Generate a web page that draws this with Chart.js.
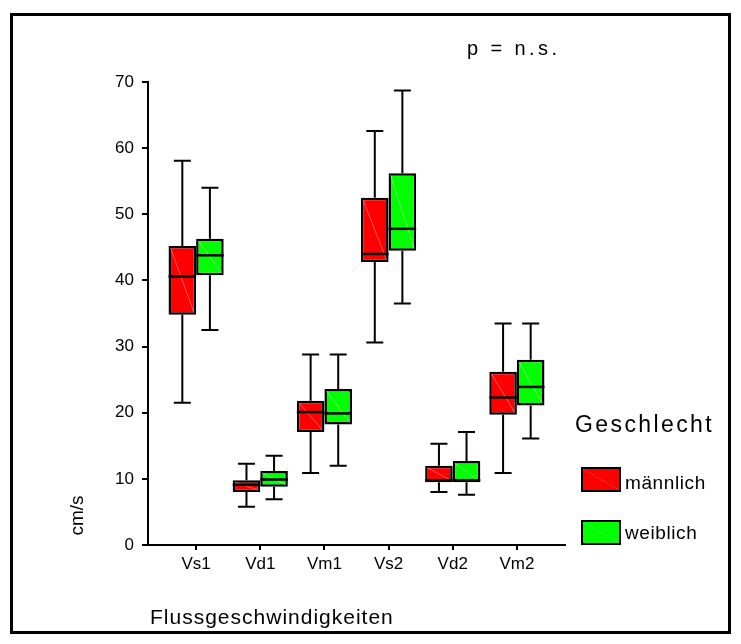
<!DOCTYPE html>
<html>
<head>
<meta charset="utf-8">
<script src="https://cdn.jsdelivr.net/npm/chart.js@4.4.1/dist/chart.umd.min.js"></script>
<style>
    body { margin: 0; background: #fff; font-family: "Liberation Sans", Arial, sans-serif; }
    #wrap { position: relative; width: 741px; height: 644px; overflow: hidden; }
    #chart { position: absolute; left: 0; top: 0; }
    .frame { position: absolute; left: 10px; top: 13px; width: 721px; height: 621px; border: 3px solid #000; box-sizing: border-box; }
    .txt { position: absolute; color: #000; white-space: nowrap; line-height: 1; }
    .swatch { position: absolute; width: 36px; height: 21px; border: 2px solid #000; box-sizing: content-box; }
</style>
</head>
<body>
<div id="wrap">
    <canvas id="chart" width="741" height="644"></canvas>
    <div class="frame"></div>
    <div class="txt" style="left:467px; top:38px; font-size:20px; letter-spacing:3.4px;">p = n.s.</div>
    <div class="txt" style="left:575px; top:413px; font-size:23px; letter-spacing:2.4px;">Geschlecht</div>
    <div class="swatch" style="left:581px; top:467px; background:linear-gradient(to bottom left, #ff0000 49%, #ff6060 50%, #ff0000 51%);"></div>
    <div class="txt" style="left:625px; top:473px; font-size:19px; letter-spacing:0.6px;">männlich</div>
    <div class="swatch" style="left:581px; top:520px; background:linear-gradient(to bottom left, #00ff00 49%, #80ff80 50%, #00ff00 51%);"></div>
    <div class="txt" style="left:625px; top:523px; font-size:19px; letter-spacing:0.6px;">weiblich</div>
    <div class="txt" style="left:150px; top:606px; font-size:21px; letter-spacing:1px;">Flussgeschwindigkeiten</div>
    <div class="txt" style="left:56px; top:506px; font-size:19px; transform:rotate(-90deg); transform-origin:center;">cm/s</div>
</div>
<script>
// Flussgeschwindigkeiten (cm/s), Boxplot nach Geschlecht
const categories = ['Vs1', 'Vd1', 'Vm1', 'Vs2', 'Vd2', 'Vm2'];
const yTicks = [0, 10, 20, 30, 40, 50, 60, 70];

// männlich
const maleMin    = [21.5,  5.8, 10.9, 30.6,  8.0, 10.9];
const maleQ1     = [34.8,  8.0, 17.1, 42.8,  9.5, 19.7];
const maleMedian = [40.6,  9.1, 20.1, 44.0,  9.8, 22.3];
const maleQ3     = [45.2,  9.8, 21.8, 52.5, 12.0, 26.2];
const maleMax    = [58.1, 12.3, 28.8, 62.6, 15.3, 33.5];

// weiblich
const femaleMin    = [32.5,  6.9, 12.0, 36.5,  7.6, 16.1];
const femaleQ1     = [40.8,  8.8, 18.2, 44.5,  9.5, 21.1];
const femaleMedian = [43.8,  9.9, 19.9, 47.8,  9.8, 23.9];
const femaleQ3     = [46.3, 11.2, 23.6, 56.2, 12.7, 28.0];
const femaleMax    = [54.0, 13.5, 28.8, 68.7, 17.1, 33.5];

const groups = [
    { label: 'männlich', color: '#ff0000', streak: 'rgba(255,150,150,0.6)', min: maleMin, q1: maleQ1, med: maleMedian, q3: maleQ3, max: maleMax },
    { label: 'weiblich', color: '#00ff00', streak: 'rgba(170,255,170,0.6)', min: femaleMin, q1: femaleQ1, med: femaleMedian, q3: femaleQ3, max: femaleMax }
];

// whiskers behind the boxes, medians on top
const boxplotParts = {
    id: 'boxplotParts',
    beforeDatasetsDraw(chart) {
        const ctx = chart.ctx;
        const y = chart.scales.y;
        ctx.save();
        ctx.strokeStyle = '#000';
        ctx.lineWidth = 2;
        groups.forEach((g, di) => {
            chart.getDatasetMeta(di).data.forEach((bar, i) => {
                const x = bar.x;
                const cap = 8.5;
                ctx.beginPath();
                ctx.moveTo(x, y.getPixelForValue(g.q3[i]));
                ctx.lineTo(x, y.getPixelForValue(g.max[i]));
                ctx.moveTo(x - cap, y.getPixelForValue(g.max[i]));
                ctx.lineTo(x + cap, y.getPixelForValue(g.max[i]));
                ctx.moveTo(x, y.getPixelForValue(g.q1[i]));
                ctx.lineTo(x, y.getPixelForValue(g.min[i]));
                ctx.moveTo(x - cap, y.getPixelForValue(g.min[i]));
                ctx.lineTo(x + cap, y.getPixelForValue(g.min[i]));
                ctx.stroke();
            });
        });
        ctx.restore();
    },
    afterDatasetsDraw(chart) {
        const ctx = chart.ctx;
        const y = chart.scales.y;
        ctx.save();
        groups.forEach((g, di) => {
            chart.getDatasetMeta(di).data.forEach((bar, i) => {
                const half = bar.width / 2;
                const top = y.getPixelForValue(g.q3[i]);
                const bottom = y.getPixelForValue(g.q1[i]);
                // faint diagonal streak like the original export
                ctx.strokeStyle = g.streak;
                ctx.lineWidth = 1;
                ctx.beginPath();
                ctx.moveTo(bar.x - half + 2, top + 2);
                ctx.lineTo(bar.x + half - 2, bottom - 2);
                ctx.stroke();
                // median
                const m = y.getPixelForValue(g.med[i]);
                ctx.strokeStyle = '#000';
                ctx.lineWidth = 2.5;
                ctx.beginPath();
                ctx.moveTo(bar.x - half, m);
                ctx.lineTo(bar.x + half, m);
                ctx.stroke();
            });
        });
        ctx.restore();
    }
};

const ctx = document.getElementById('chart').getContext('2d');
new Chart(ctx, {
    type: 'bar',
    data: {
        datasets: groups.map(g => ({
            label: g.label,
            data: categories.map((c, i) => ({ x: i, y: [g.q1[i], g.q3[i]] })),
            backgroundColor: g.color,
            borderColor: '#000',
            borderWidth: 2.5,
            borderSkipped: false,
            categoryPercentage: 0.86,
            barPercentage: 1.0
        }))
    },
    options: {
        responsive: false,
        animation: false,
        layout: { padding: { left: 0, top: 82, right: 176, bottom: 0 } },
        plugins: {
            legend: { display: false },
            tooltip: { enabled: false }
        },
        scales: {
            x: {
                type: 'linear',
                min: -0.75,
                max: 5.75,
                offset: false,
                afterFit(scale) { scale.height = 99; },
                afterBuildTicks(scale) { scale.ticks = categories.map((c, i) => ({ value: i })); },
                grid: { offset: false, drawOnChartArea: false, drawTicks: true, tickLength: 5, color: '#000', lineWidth: 2 },
                border: { display: true, color: '#000', width: 2 },
                ticks: {
                    padding: 4,
                    color: '#000',
                    font: { family: '"Liberation Sans", Arial, sans-serif', size: 17 },
                    callback: v => categories[v]
                }
            },
            y: {
                min: 0,
                max: 70,
                afterFit(scale) { scale.width = 148; },
                afterBuildTicks(scale) { scale.ticks = yTicks.map(v => ({ value: v })); },
                grid: { drawOnChartArea: false, drawTicks: true, tickLength: 6, color: '#000', lineWidth: 2 },
                border: { display: true, color: '#000', width: 2 },
                ticks: {
                    padding: 8,
                    color: '#000',
                    font: { family: '"Liberation Sans", Arial, sans-serif', size: 17 }
                }
            }
        }
    },
    plugins: [boxplotParts]
});
</script>
</body>
</html>
